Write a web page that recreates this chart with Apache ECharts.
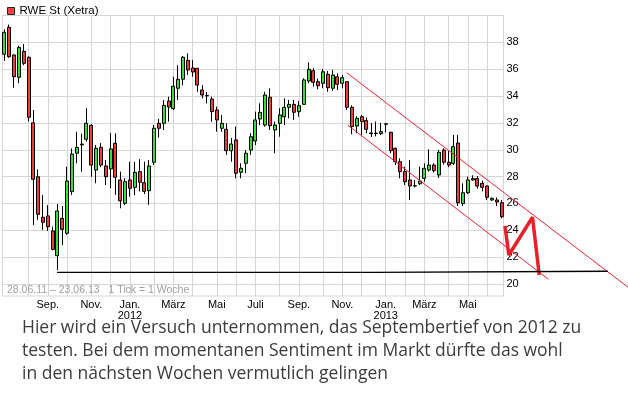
<!DOCTYPE html>
<html>
<head>
<meta charset="utf-8">
<script src="https://cdn.jsdelivr.net/npm/echarts@6/dist/echarts.min.js"></script>
<style>
html,body{margin:0;padding:0;background:#fff;}
#chart{width:628px;height:418px;}
</style>
</head>
<body>
<div id="chart"></div>
<script>
// ---- data (weekly candles, 27.06.2011 .. 17.06.2013) ----
const seriesName = 'RWE St (Xetra)';
const firstWeek = '2011-06-27';
const weekCount = 104;

const open = [37.11,39.12,37.06,35.40,37.33,36.89,32.01,27.99,24.97,25.07,
23.95,22.11,24.89,23.78,26.88,29.74,30.42,30.78,31.82,28.49,
30.18,28.79,28.57,30.48,27.75,26.01,27.75,27.20,28.37,27.55,
26.95,29.07,31.97,31.97,33.63,33.06,34.58,35.25,36.66,36.09,
36.07,34.45,34.05,33.78,32.96,31.60,31.53,29.93,30.73,28.32,
28.99,29.98,30.65,32.29,31.84,33.91,31.47,31.97,32.46,33.16,
33.38,32.84,33.38,35.12,35.89,35.07,34.95,35.62,34.58,35.44,
34.95,35.07,33.16,31.77,32.46,32.17,31.25,31.24,31.20,31.93,
31.30,30.11,29.11,28.37,27.75,27.32,27.47,27.87,28.49,28.86,
28.12,29.98,29.07,28.99,30.50,26.00,26.80,27.75,27.85,27.50,
27.30,26.26,26.26,26.06];

const close = [38.75,36.93,35.44,37.63,36.44,32.42,27.80,25.19,24.60,24.27,
22.58,25.44,24.07,27.67,29.68,30.18,30.36,31.97,28.86,30.11,
28.86,27.99,30.06,27.95,26.20,27.62,27.13,28.32,27.58,26.90,
28.79,31.60,31.60,33.31,33.18,34.73,35.25,36.89,35.94,35.79,
34.82,34.08,34.02,32.84,32.22,31.97,29.93,30.43,28.25,28.62,
29.74,30.97,32.22,32.79,34.08,31.79,31.84,32.59,33.16,33.38,
32.79,33.28,35.20,35.99,35.02,34.77,35.81,34.62,35.57,34.88,
35.37,33.16,31.72,32.34,32.09,31.52,31.20,31.20,31.35,31.90,
29.93,29.11,28.37,27.62,27.30,27.30,27.67,28.62,28.86,28.44,
29.81,29.07,28.86,30.23,26.05,26.80,27.75,27.85,27.30,27.20,
26.46,26.38,26.11,25.01];

const low = [36.61,36.85,34.62,34.95,36.30,32.10,24.39,24.77,24.02,23.95,
22.50,21.04,22.90,23.65,26.63,28.99,28.37,30.60,27.99,27.50,
28.70,27.37,27.13,26.63,25.64,25.88,26.50,26.60,26.90,26.70,
25.88,28.86,30.90,31.47,32.09,32.96,33.70,34.80,35.57,35.44,
34.32,33.83,33.45,32.09,31.34,31.34,29.61,29.11,27.87,27.87,
28.25,29.61,30.35,31.84,31.72,31.47,29.74,30.97,31.84,32.34,
32.22,32.46,33.33,34.95,34.70,34.50,34.58,34.32,34.38,34.45,
34.58,32.96,31.15,31.23,31.10,31.23,30.95,31.00,31.10,31.30,
29.74,28.86,27.87,27.37,26.26,27.20,27.37,27.62,28.37,28.30,
27.90,28.90,28.70,28.86,25.81,25.81,26.70,27.70,27.10,26.90,
26.26,26.20,25.81,24.89];

const high = [38.97,39.32,37.10,37.75,37.88,36.95,32.96,28.54,26.63,25.88,
24.27,25.96,25.81,28.74,30.10,31.34,31.20,33.09,31.90,30.35,
30.50,29.24,31.25,31.23,28.37,27.87,29.11,29.10,29.30,29.11,
29.24,31.84,32.30,33.70,33.95,35.44,36.30,36.98,37.18,36.69,
36.09,34.82,34.30,33.95,33.21,32.59,31.97,30.88,31.72,28.99,
29.98,31.23,32.84,33.46,34.32,34.58,32.09,33.09,33.83,33.71,
33.71,33.63,35.32,36.51,36.07,35.30,36.01,35.87,35.94,35.69,
35.57,35.10,33.30,32.50,32.59,32.40,32.00,32.10,32.00,31.95,
31.35,30.15,29.36,28.74,29.24,27.75,28.74,28.99,30.03,29.00,
29.98,30.11,29.90,31.10,31.10,27.50,28.00,28.10,28.05,27.70,
27.35,26.45,26.45,26.26];

// drawn annotations, in [week index, price]
const channelUpper = [[70.9, 35.74], [131.7, 19.07]];
const channelLower = [[71.1, 31.84], [112.7, 20.35]];
const zigzag = [[103.7, 24.32], [104.5, 22.16], [109.4, 24.97], [110.8, 20.67]];
const supportLine = [[10.9, 20.87], [76.5, 20.87], [76.6, 20.95], [125.0, 20.95]];

const monthNames = ['Jan.','Feb.','März','Apr.','Mai','Juni','Juli','Aug.','Sep.','Okt.','Nov.','Dez.'];
const labelMonths = [0, 2, 4, 6, 8, 10];
const yTicks = {min: 20, max: 40, step: 2};
const rangeText = '28.06.11 – 23.06.13   1 Tick = 1 Woche';
const comment = 'Hier wird ein Versuch unternommen, das Septembertief von 2012 zu\ntesten. Bei dem momentanen Sentiment im Markt dürfte das wohl\nin den nächsten Wochen vermutlich gelingen';

// ---- categories (week start dates) ----
const DAY = 86400000;
const t0 = Date.parse(firstWeek + 'T00:00:00Z');
const weeks = [];
for (let i = 0; i < weekCount; i++) weeks.push(new Date(t0 + i * 7 * DAY).toISOString().slice(0, 10));

function monthStartIn(weekStr) {
  const t = Date.parse(weekStr + 'T00:00:00Z');
  for (let k = 0; k < 7; k++) {
    const d = new Date(t + k * DAY);
    if (d.getUTCDate() === 1) return {m: d.getUTCMonth(), y: d.getUTCFullYear()};
  }
  return null;
}

const candles = weeks.map((w, i) => [open[i], close[i], low[i], high[i]]);

// ---- layout ----
const L = 2.5, R = 503.5, T = 15.5, B = 296, B20 = 284;
const firstX = 4.4, lastX = 501.6;
const W = 628, H = 418;
const gridLine = '#d6d6d6';
const font = 'Liberation Sans, Arial, sans-serif';

// overlay coordinate system: same scale as the data grid, stretched to the canvas edges
const pxPerWeek = (lastX - firstX) / (weekCount - 1);
const pxPerUnit = (B20 - T) / (yTicks.max - yTicks.min);
const ovXMax = (W - firstX) / pxPerWeek;
const ovYMin = yTicks.max - (H - T) / pxPerUnit;

const chart = echarts.init(document.getElementById('chart'), null, {renderer: 'canvas', width: W, height: H});

const overlay = (data, width, color) => ({
  type: 'line', xAxisIndex: 4, yAxisIndex: 3, data: data,
  symbol: 'none', silent: true, z: 5,
  lineStyle: {color: color, width: width}
});

chart.setOption({
  animation: false,
  backgroundColor: '#fff',
  legend: {
    left: 2, top: 0, icon: 'rect', itemWidth: 7, itemHeight: 7, itemGap: 5,
    textStyle: {fontSize: 11.5, color: '#000', fontFamily: font},
    data: [{name: seriesName, itemStyle: {color: '#ee4444', borderColor: '#222', borderWidth: 1}}]
  },
  grid: [
    {left: firstX, right: W - lastX, top: T, bottom: H - B},
    {left: L, right: W - R, top: T, bottom: H - B20},
    {left: firstX, right: W - lastX, top: T, bottom: H - B20},
    {left: firstX, right: 0, top: T, bottom: 0}
  ],
  xAxis: [
    {
      gridIndex: 0, type: 'category', data: weeks, boundaryGap: false,
      axisLine: {show: false}, axisTick: {show: false},
      splitLine: {show: true, lineStyle: {color: gridLine, width: 1},
        interval: (i, v) => i > 0 && monthStartIn(v) !== null},
      axisLabel: {
        margin: 3, fontSize: 11, lineHeight: 11, color: '#000', fontFamily: font,
        interval: (i, v) => { const s = monthStartIn(v); return i > 0 && s !== null && labelMonths.indexOf(s.m) >= 0; },
        formatter: (v) => { const s = monthStartIn(v); if (!s) return ''; return monthNames[s.m] + (s.m === 0 ? '\n' + s.y : ''); }
      }
    },
    {gridIndex: 1, type: 'value', min: 0, max: 1, show: false},
    {gridIndex: 2, type: 'category', data: weeks, boundaryGap: false, show: false},
    {gridIndex: 2, type: 'value', min: 0, max: weekCount - 1, show: false},
    {gridIndex: 3, type: 'value', min: 0, max: ovXMax, show: false}
  ],
  yAxis: [
    {gridIndex: 0, type: 'value', min: 0, max: 1, show: false},
    {
      gridIndex: 1, type: 'value', position: 'right',
      min: yTicks.min, max: yTicks.max, interval: yTicks.step,
      axisLine: {show: false}, axisTick: {show: false},
      splitLine: {show: true, lineStyle: {color: gridLine, width: 1}},
      axisLabel: {margin: 3, fontSize: 11, color: '#000', fontFamily: font, showMaxLabel: false}
    },
    {gridIndex: 2, type: 'value', min: yTicks.min, max: yTicks.max, show: false},
    {gridIndex: 3, type: 'value', min: ovYMin, max: yTicks.max, show: false}
  ],
  graphic: [
    {type: 'rect', z: 1, silent: true,
      shape: {x: L, y: T, width: R - L, height: B - T},
      style: {fill: 'none', stroke: gridLine, lineWidth: 1}},
    {type: 'text', z: 3, silent: true, left: 7, top: 284.5,
      style: {text: rangeText, fontSize: 10.5, fill: '#a0a0a0', fontFamily: font}},
    {type: 'text', z: 3, silent: true, left: 22, top: 316.5,
      style: {text: comment, fontSize: 17.5, lineHeight: 23, fill: '#3c3c3c', fontFamily: 'Open Sans, Noto Sans, sans-serif'}}
  ],
  series: [
    {
      name: seriesName, type: 'candlestick', xAxisIndex: 2, yAxisIndex: 2,
      data: candles, barWidth: 3.5, z: 3,
      itemStyle: {color: '#3ddc3d', color0: '#ee3b3b', borderColor: '#000', borderColor0: '#000', borderColorDoji: '#000', borderWidth: 1}
    },
    overlay(channelUpper, 1, '#ee2233'),
    overlay(channelLower, 1, '#ee2233'),
    overlay(zigzag, 3.5, '#e8202a'),
    overlay(supportLine, 1.3, '#000')
  ]
});
</script>
</body>
</html>
